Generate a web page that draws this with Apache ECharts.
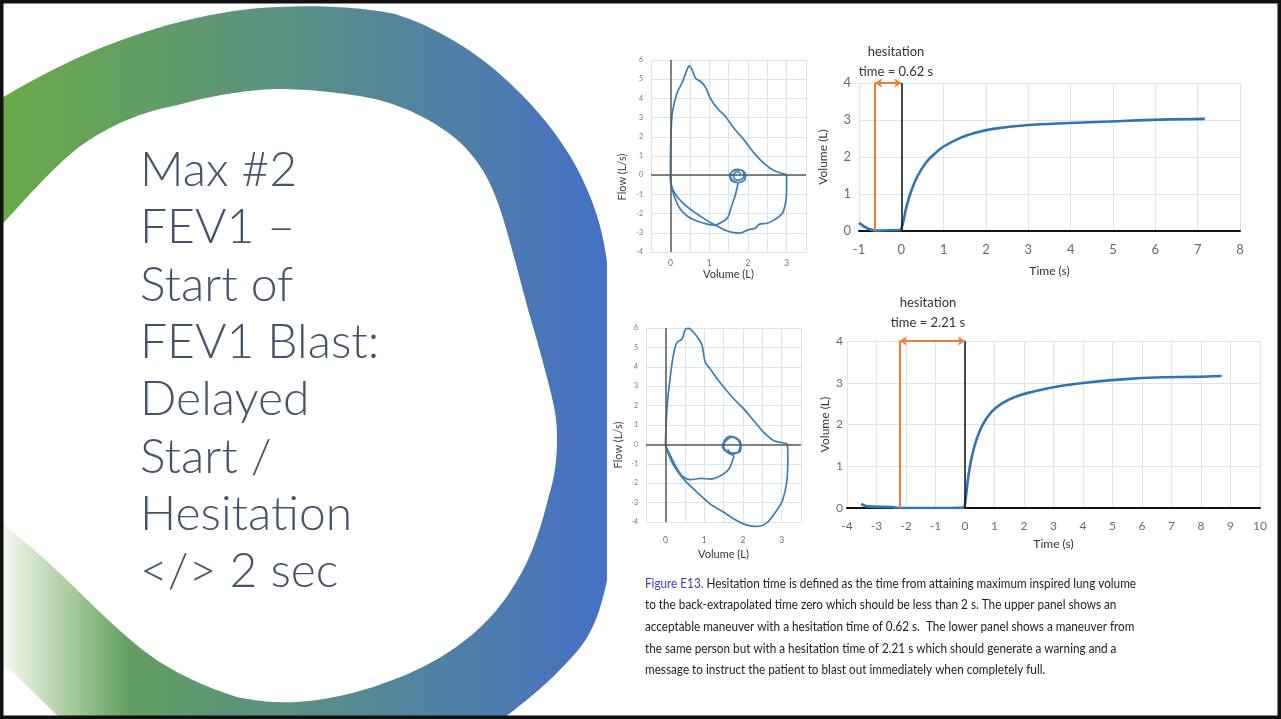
<!DOCTYPE html>
<html>
<head>
<meta charset="utf-8">
<script src="https://cdn.jsdelivr.net/npm/echarts@6/dist/echarts.min.js"></script>
<style>
  html, body { margin: 0; padding: 0; background: #fff; }
  #main { width: 1281px; height: 719px; }
</style>
</head>
<body>
<div id="main"></div>
<script>
// slide title
const titleLines = ['Max #2', 'FEV1 –', 'Start of', 'FEV1 Blast:', 'Delayed', 'Start /', 'Hesitation', '</> 2 sec'];

// upper panel: flow-volume loop [volume L, flow L/s]
const loop1Forced = [[0,0],[0.04,3.06],[0.17,4.27],[0.3,4.8],[0.43,5.5],[0.49,5.69],[0.56,5.49],[0.65,5.05],[0.78,4.88],[0.9,4.6],[1.03,4.01],[1.21,3.49],[1.42,3.06],[1.64,2.45],[1.9,1.84],[2.16,1.15],[2.41,0.63],[2.67,0.24],[2.93,0.07],[3.0,0],
  [3.0,-0.76],[2.97,-1.46],[2.89,-1.98],[2.7,-2.3],[2.5,-2.5],[2.3,-2.55],[2.2,-2.75],[2.0,-2.85],[1.8,-3.02],[1.6,-2.98],[1.4,-2.85],[1.2,-2.65],[0.9,-2.3],[0.6,-1.9],[0.3,-1.4],[0.1,-0.9],[0.02,-0.5],[0,0]];
const loop1Inhale = [[1.75,-0.38],[1.68,-1.0],[1.58,-1.6],[1.48,-2.2],[1.32,-2.45],[1.15,-2.6],[0.95,-2.55],[0.7,-2.4],[0.45,-2.15],[0.25,-1.75],[0.1,-1.1],[0.02,-0.45],[0,0]];
const loop1Tidal = [[1.82,0.05],[1.76,0.18],[1.66,0.12],[1.63,-0.1],[1.72,-0.26],[1.85,-0.2],[1.9,0.02],[1.84,0.25],[1.7,0.3],[1.58,0.18],[1.55,-0.05],[1.62,-0.3],[1.76,-0.38],[1.9,-0.28],[1.94,-0.02],[1.88,0.22],[1.74,0.28],[1.6,0.2],[1.53,0],[1.6,-0.32],[1.75,-0.38]];

// upper panel: volume-time
const vt1Time = [-1,-0.78,-0.59,-0.3,-0.08,0,0.12,0.24,0.39,0.59,0.79,0.98,1.38,1.77,2.17,2.95,3.98,4.92,6.1,7.17];
const vt1Vol  = [0.22,0.06,0.01,0.02,0.02,0.06,0.65,1.1,1.5,1.86,2.09,2.27,2.51,2.66,2.76,2.86,2.92,2.96,3.01,3.03];
const hes1 = 0.62;

// lower panel: flow-volume loop
const loop2Forced = [[0,0],[0.04,1.82],[0.13,3.54],[0.22,4.74],[0.3,5.26],[0.43,5.43],[0.52,5.95],[0.6,5.98],[0.73,5.77],[0.86,5.43],[0.95,5.09],[1.03,4.23],[1.16,3.88],[1.34,3.37],[1.55,2.85],[1.77,2.34],[2.03,1.82],[2.28,1.22],[2.54,0.62],[2.8,0.19],[3.06,0.07],[3.15,0],
  [3.16,-0.76],[3.13,-1.96],[3.02,-2.9],[2.84,-3.5],[2.63,-4.02],[2.37,-4.23],[2.2,-4.2],[2.03,-4.11],[1.77,-3.85],[1.51,-3.5],[1.16,-3.08],[0.82,-2.47],[0.47,-1.79],[0.22,-1.1],[0.06,-0.41],[0,0]];
const loop2Inhale = [[1.77,-0.58],[1.64,-1.27],[1.42,-1.62],[1.16,-1.79],[0.91,-1.75],[0.65,-1.82],[0.43,-1.62],[0.26,-1.1],[0.13,-0.58],[0.03,-0.15],[0,0]];
const loop2Tidal = [[1.6,-0.25],[1.72,-0.45],[1.86,-0.42],[1.93,-0.1],[1.88,0.22],[1.72,0.38],[1.6,0.26],[1.5,-0.05],[1.58,-0.36],[1.78,-0.48],[1.94,-0.32],[1.95,0.05],[1.82,0.34],[1.66,0.42],[1.53,0.22],[1.47,-0.12],[1.62,-0.44],[1.77,-0.58]];

// lower panel: volume-time
const vt2Time = [-3.52,-3.32,-2.47,-2.25,-1.5,-0.67,-0.05,0,0.11,0.23,0.4,0.62,0.9,1.24,1.69,2.26,3.05,4.07,5.31,6.67,7.8,8.7];
const vt2Vol  = [0.1,0.04,0.02,0,0,0,0.01,0.1,0.74,1.22,1.66,2.02,2.3,2.5,2.66,2.78,2.9,3.0,3.08,3.13,3.14,3.16];
const hes2 = 2.21;

const captionLines = [
  '{f|Figure E13.} Hesitation time is defined as the time from attaining maximum inspired lung volume',
  'to the back-extrapolated time zero which should be less than 2 s. The upper panel shows an',
  'acceptable maneuver with a hesitation time of 0.62 s.  The lower panel shows a maneuver from',
  'the same person but with a hesitation time of 2.21 s which should generate a warning and a',
  'message to instruct the patient to blast out immediately when completely full.'
];

let myChart = echarts.init(document.getElementById('main'));

const loopBlue = '#3a7fb7';
const vtBlue = '#2e75b6';
const orange = '#ed7d31';

// caption is set in Calibri in the original, squeeze Lato to the same width
let ctx = document.createElement('canvas').getContext('2d');
ctx.font = '12.5px Lato';
let capScale = 491 / ctx.measureText(captionLines[0].replace('{f|', '').replace('}', '')).width;

function zip (xs, ys) {
  return xs.map((x, i) => [x, ys[i]]);
}
function linear (x2, y2, stops) {
  return { type: 'linear', x: 0, y: 0, x2: x2, y2: y2, global: false,
    colorStops: stops.map(s => ({ offset: s[0], color: s[1] })) };
}
// turn an M/C/L path string into polygon points (graphic has no 'path' type)
function pathPoints (d) {
  let t = d.replace(/,/g, ' ').trim().split(/\s+/);
  let pts = [], i = 0, cx = 0, cy = 0;
  while (i < t.length) {
    let c = t[i++];
    if (c === 'M' || c === 'L') {
      cx = +t[i++]; cy = +t[i++];
      pts.push([cx, cy]);
    } else if (c === 'C') {
      let x1 = +t[i++], y1 = +t[i++], x2 = +t[i++], y2 = +t[i++], x = +t[i++], y = +t[i++];
      for (let k = 1; k <= 16; k++) {
        let s = k / 16, u = 1 - s;
        pts.push([u * u * u * cx + 3 * u * u * s * x1 + 3 * u * s * s * x2 + s * s * s * x,
                  u * u * u * cy + 3 * u * u * s * y1 + 3 * u * s * s * y2 + s * s * s * y]);
      }
      cx = x; cy = y;
    }
  }
  return pts;
}

function loopAxisX (grid, margin, gap) {
  return {
    type: 'value', gridIndex: grid, min: -0.5, max: 3.5, interval: 0.5,
    axisLine: { show: false }, axisTick: { show: false },
    axisLabel: { fontSize: 8.5, color: '#6f6f6f', margin: margin, fontFamily: 'Lato',
      formatter: v => Number.isInteger(v) ? String(v) : '' },
    splitLine: { lineStyle: { color: '#dde3ea', width: 1 } },
    name: 'Volume (L)', nameLocation: 'middle', nameGap: gap,
    nameTextStyle: { fontSize: 11, color: '#333', fontFamily: 'Lato' }
  };
}
function loopAxisY (grid) {
  return {
    type: 'value', gridIndex: grid, min: -4, max: 6, interval: 1,
    axisLine: { show: false }, axisTick: { show: false },
    axisLabel: { fontSize: 7, color: '#777', margin: 8, fontFamily: 'Lato' },
    splitLine: { lineStyle: { color: '#dde3ea', width: 1 } }
  };
}
function vtAxisX (grid, min, max, size, gap) {
  return {
    type: 'value', gridIndex: grid, min: min, max: max, interval: 1,
    axisLine: { show: true, lineStyle: { color: '#111', width: 2 } }, axisTick: { show: false },
    axisLabel: { fontSize: size, color: '#6b6b6b', margin: 12, fontFamily: 'Lato' },
    splitLine: { lineStyle: { color: '#e3e3e3', width: 1 } },
    name: 'Time (s)', nameLocation: 'middle', nameGap: gap,
    nameTextStyle: { fontSize: 12, color: '#333', fontFamily: 'Lato' }
  };
}
function vtAxisY (grid, size, margin, gap) {
  return {
    type: 'value', gridIndex: grid, min: 0, max: 4, interval: 1,
    axisLine: { show: false }, axisTick: { show: false },
    axisLabel: { fontSize: size, color: '#6b6b6b', margin: margin, fontFamily: 'Lato' },
    splitLine: { lineStyle: { color: '#e3e3e3', width: 1 } },
    name: 'Volume (L)', nameLocation: 'middle', nameGap: gap,
    nameTextStyle: { fontSize: 12, color: '#333', fontFamily: 'Lato' }
  };
}
function loopSeries (data, grid, zeroLines) {
  let s = {
    type: 'line', xAxisIndex: grid, yAxisIndex: grid, data: data,
    showSymbol: false, smooth: 0.3, silent: true, clip: false,
    lineStyle: { color: loopBlue, width: 1.7 }
  };
  if (zeroLines) {
    s.markLine = {
      silent: true, symbol: 'none', label: { show: false },
      lineStyle: { color: '#5a5a5a', width: 1.5, type: 'solid' },
      data: [{ xAxis: 0 }, { yAxis: 0 }]
    };
  }
  return s;
}
function vtSeries (data, grid, hes) {
  return [{
    type: 'line', xAxisIndex: grid, yAxisIndex: grid, data: data,
    showSymbol: false, smooth: 0.4, silent: true,
    lineStyle: { color: vtBlue, width: 2.6 },
    markLine: {
      silent: true, symbol: 'none', label: { show: false },
      data: [
        { xAxis: 0, lineStyle: { color: '#111', width: 1.5, type: 'solid' } },
        { xAxis: -hes, lineStyle: { color: orange, width: 2, type: 'solid' } }
      ]
    }
  }, {
    type: 'line', xAxisIndex: grid, yAxisIndex: grid, data: [],
    markLine: {
      silent: true, symbol: ['arrow', 'arrow'], symbolSize: [7, 7], label: { show: false },
      lineStyle: { color: orange, width: 2, type: 'solid' },
      data: [[{ coord: [-hes, 4] }, { coord: [0, 4] }]]
    }
  }];
}

let gridOpt = [
  { left: 651, top: 60, width: 155, height: 192 },
  { left: 859, top: 83, width: 381, height: 148 },
  { left: 646, top: 328, width: 155, height: 194 },
  { left: 847, top: 341, width: 413, height: 167 }
];

// slide decoration outlines, pixel space
const ringOuter = pathPoints('M -5 102 C 40 75, 80 55, 119 41 C 170 22, 225 9, 277 7 C 320 5, 360 7, 395 14 C 430 25, 465 45, 494 69 C 530 100, 555 130, 573 161 C 592 195, 602 225, 607 262 L 607 580 C 600 615, 590 638, 573 656 C 550 682, 522 705, 494 725 L 67 725 L -5 655 Z');
const ringInner = pathPoints('M -5 232 C 25 200, 50 170, 79 147 C 110 125, 140 112, 178 105 C 210 96, 245 90, 277 89 C 310 89, 345 93, 375 99 C 410 108, 435 122, 455 138 C 475 155, 487 175, 494 193 C 502 212, 508 235, 514 257 C 521 282, 527 307, 534 330 C 541 355, 548 380, 553 402 C 556 415, 557 426, 557 438 C 557 458, 555 476, 549 495 C 543 520, 536 543, 526 564 C 512 592, 495 615, 474 633 C 452 652, 425 668, 395 679 C 365 691, 330 700, 296 702 C 275 703, 256 701, 237 697 C 208 688, 182 676, 158 661 C 130 642, 105 617, 79 592 C 55 568, 30 545, -5 518 Z');

myChart.setOption({
  animation: false,
  backgroundColor: '#fff',
  grid: gridOpt,
  xAxis: [
    loopAxisX(0, 7, 17),
    vtAxisX(1, -1, 8, 13, 34),
    loopAxisX(2, 14, 27),
    vtAxisX(3, -4, 10, 12, 30)
  ],
  yAxis: [
    loopAxisY(0),
    vtAxisY(1, 13, 8, 30),
    loopAxisY(2),
    vtAxisY(3, 12, 4, 16)
  ],
  series: [
    loopSeries(loop1Forced, 0, true),
    loopSeries(loop1Inhale, 0, false),
    loopSeries(loop1Tidal, 0, false),
    ...vtSeries(zip(vt1Time, vt1Vol), 1, hes1),
    loopSeries(loop2Forced, 2, true),
    loopSeries(loop2Inhale, 2, false),
    loopSeries(loop2Tidal, 2, false),
    ...vtSeries(zip(vt2Time, vt2Vol), 3, hes2)
  ],
  graphic: [
    // decorative ring
    {
      type: 'polygon', z: -10, silent: true,
      shape: { points: ringOuter },
      style: { fill: linear(1, 0, [[0, '#6aaa46'], [0.5, '#5a8f86'], [1, '#4570c6']]) }
    },
    {
      type: 'polygon', z: -9, silent: true,
      shape: { points: ringInner },
      style: { fill: '#fff' }
    },
    {
      type: 'polygon', z: -8, silent: true,
      shape: { points: [[0, 505], [150, 640], [130, 719], [0, 719]] },
      style: { fill: linear(1, 0, [[0, 'rgba(255,255,255,0.95)'], [0.85, 'rgba(255,255,255,0)']]) }
    },
    // title
    {
      type: 'text', x: 140, y: 142, silent: true,
      style: { text: titleLines.join('\n'), font: '300 48px Lato', fill: '#44546a', lineHeight: 57.3, verticalAlign: 'top' }
    },
    // flow axis names
    {
      type: 'text', x: 622, y: 177, rotation: Math.PI / 2, silent: true,
      style: { text: 'Flow (L/s)', font: '11px Lato', fill: '#404040', align: 'center', verticalAlign: 'middle' }
    },
    {
      type: 'text', x: 618, y: 445, rotation: Math.PI / 2, silent: true,
      style: { text: 'Flow (L/s)', font: '11px Lato', fill: '#404040', align: 'center', verticalAlign: 'middle' }
    },
    // hesitation notes
    {
      type: 'text', x: 896, y: 62, silent: true,
      style: { text: 'hesitation\ntime = ' + hes1 + ' s', font: '13px Lato', fill: '#333', align: 'center', verticalAlign: 'middle', lineHeight: 20 }
    },
    {
      type: 'text', x: 928, y: 313, silent: true,
      style: { text: 'hesitation\ntime = ' + hes2 + ' s', font: '13px Lato', fill: '#333', align: 'center', verticalAlign: 'middle', lineHeight: 20 }
    },
    // caption
    {
      type: 'text', x: 645, y: 573, scaleX: capScale, silent: true,
      style: {
        text: captionLines.join('\n'), font: '12.5px Lato', fill: '#222', lineHeight: 21.6, verticalAlign: 'top',
        rich: { f: { fill: '#3a3acc', font: '12.5px Lato' } }
      }
    },
    // slide frame
    {
      type: 'rect', z: 100, silent: true,
      shape: { x: 1.75, y: 1.75, width: 1277.5, height: 715.5 },
      style: { fill: 'none', stroke: '#111', lineWidth: 3.5 }
    }
  ]
});
window.addEventListener('resize', function () { myChart.resize(); });
</script>
</body>
</html>
